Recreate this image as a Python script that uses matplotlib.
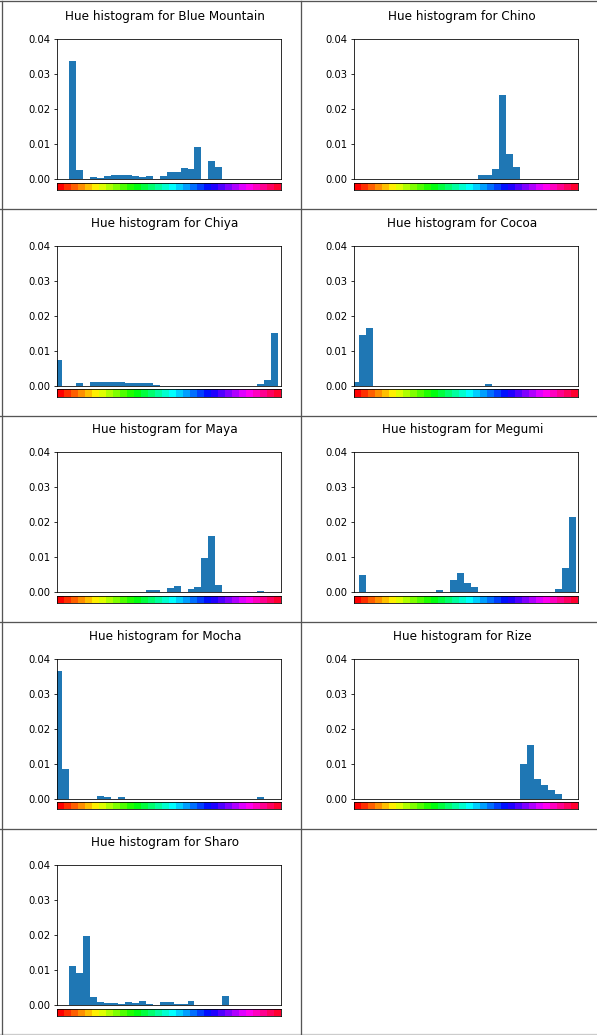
import numpy as np
import matplotlib
matplotlib.use("Agg")
import matplotlib.pyplot as plt
from matplotlib.colors import hsv_to_rgb
from matplotlib.lines import Line2D

names = ["Blue Mountain", "Chino", "Chiya", "Cocoa", "Maya",
         "Megumi", "Mocha", "Rize", "Sharo"]

blue_mountain = [0, 0, 0.0338, 0.0027, 0, 0.0007, 0.0004, 0.00095, 0.0012, 0.0012,
                 0.0012, 0.00095, 0.0007, 0.00095, 0, 0.00095, 0.0021, 0.0021, 0.0032, 0.0030,
                 0.0093, 0, 0.0052, 0.0035, 0, 0, 0, 0, 0, 0, 0, 0]
chino = [0, 0, 0, 0, 0, 0, 0, 0, 0, 0,
         0, 0, 0, 0, 0, 0, 0, 0, 0.0012, 0.0012,
         0.0030, 0.0241, 0.0072, 0.0035, 0, 0, 0, 0, 0, 0, 0, 0]
chiya = [0.0075, 0, 0, 0.0007, 0, 0.0012, 0.0012, 0.0012, 0.0012, 0.0012,
         0.0007, 0.0007, 0.0007, 0.0007, 0.0003, 0, 0, 0, 0, 0,
         0, 0, 0, 0, 0, 0, 0, 0, 0, 0.0004, 0.0018, 0.0152]
cocoa = [0.0012, 0.0144, 0.0164, 0, 0, 0, 0, 0, 0, 0,
         0, 0, 0, 0, 0, 0, 0, 0, 0, 0.0004,
         0, 0, 0, 0, 0, 0, 0, 0, 0, 0, 0, 0]
maya = [0, 0, 0, 0, 0, 0, 0, 0, 0, 0,
        0, 0, 0, 0.0007, 0.0007, 0, 0.0012, 0.0018, 0, 0.00095,
        0.0015, 0.0098, 0.0161, 0.0021, 0, 0, 0, 0, 0, 0.0004, 0, 0]
megumi = [0, 0.0050, 0, 0, 0, 0, 0, 0, 0, 0,
          0, 0, 0.0007, 0, 0.0035, 0.0055, 0.0027, 0.0015, 0, 0,
          0, 0, 0, 0, 0, 0, 0, 0, 0, 0.00095, 0.0070, 0.0215]
mocha = [0.0366, 0.0085, 0, 0, 0, 0, 0.0007, 0.0004, 0, 0.0004,
         0, 0, 0, 0, 0, 0, 0, 0, 0, 0,
         0, 0, 0, 0, 0, 0, 0, 0, 0, 0.0004, 0, 0]
rize = [0, 0, 0, 0, 0, 0, 0, 0, 0, 0,
        0, 0, 0, 0, 0, 0, 0, 0, 0, 0,
        0, 0, 0, 0, 0.0100, 0.0155, 0.0058, 0.0040, 0.0026, 0.0014, 0, 0]
sharo = [0, 0, 0.0112, 0.0092, 0.0198, 0.0024, 0.00095, 0.0007, 0.0007, 0.0004,
         0.00095, 0.0007, 0.0012, 0.0004, 0, 0.00095, 0.00095, 0.0004, 0.0004, 0.0012,
         0, 0, 0, 0, 0.0027, 0, 0, 0, 0, 0, 0, 0]

series = [blue_mountain, chino, chiya, cocoa, maya, megumi, mocha, rize, sharo]
y_ticks = [0.00, 0.01, 0.02, 0.03, 0.04]
n_bins = 32
n_hue_segments = 32

# ---- layout (pixels) ----
W, H = 597, 1035
DPI = 72
BIN_SHIFT = -0.35
col_x = [57.3, 354.3]
col_w = [223.4, 224.0]
row_top0 = 39.3
row_pitch = 206.5
ax_h = 140.0
cb_gap = 3.4
cb_h = 7.3

fig = plt.figure(figsize=(W / DPI, H / DPI), dpi=DPI)
fig.patch.set_facecolor("white")


def rect(x, top, w, h):
    return [x / W, 1 - (top + h) / H, w / W, h / H]


hue_colors = hsv_to_rgb(np.stack([np.arange(n_hue_segments) / n_hue_segments,
                                  np.ones(n_hue_segments),
                                  np.ones(n_hue_segments)], axis=1))

for k, (name, vals) in enumerate(zip(names, series)):
    r, c = divmod(k, 2)
    x0 = col_x[c]
    w = col_w[c]
    top = row_top0 + r * row_pitch
    ax = fig.add_axes(rect(x0, top, w, ax_h))
    ax.bar(np.arange(n_bins) + BIN_SHIFT, vals, width=1.0, align="edge",
           color="#1f77b4", linewidth=0)
    ax.set_xlim(0, n_bins)
    ax.set_ylim(0, 0.04)
    ax.set_yticks(y_ticks)
    ax.set_yticklabels([f"{v:.2f}" for v in y_ticks], fontsize=10)
    ax.set_xticks([])
    ax.tick_params(axis="y", length=3.5, width=0.8, pad=3.5)
    for sp in ax.spines.values():
        sp.set_linewidth(0.8)
        sp.set_color("black")

    cax = fig.add_axes(rect(x0, top + ax_h + cb_gap, w, cb_h))
    cax.imshow(hue_colors[np.newaxis, :, :], aspect="auto",
               extent=[0, n_hue_segments, 0, 1], interpolation="nearest")
    cax.set_xlim(0, n_hue_segments)
    cax.set_xticks([])
    cax.set_yticks([])
    for sp in cax.spines.values():
        sp.set_linewidth(0.8)
        sp.set_color("black")

    fig.text((x0 + w / 2 - 4) / W, 1 - (top - 19.2) / H,
             f"Hue histogram for {name}", ha="center", va="baseline",
             fontsize=12, color="black")

# ---- table borders ----
border_col = "#555555"
for y in [1.0, 208.5, 415.5, 622.3, 828.6]:
    fig.add_artist(Line2D([0, 1], [1 - y / H, 1 - y / H], transform=fig.transFigure,
                          color=border_col, linewidth=1.3))
fig.add_artist(Line2D([0, 1], [1 - 1034 / H, 1 - 1034 / H], transform=fig.transFigure,
                      color="#cccccc", linewidth=1.3))
for x in [2.4, 301.3]:
    fig.add_artist(Line2D([x / W, x / W], [1 - 1034 / H, 1 - 1.0 / H],
                          transform=fig.transFigure, color=border_col, linewidth=1.3))

fig.savefig("out.png", dpi=DPI, facecolor="white")
